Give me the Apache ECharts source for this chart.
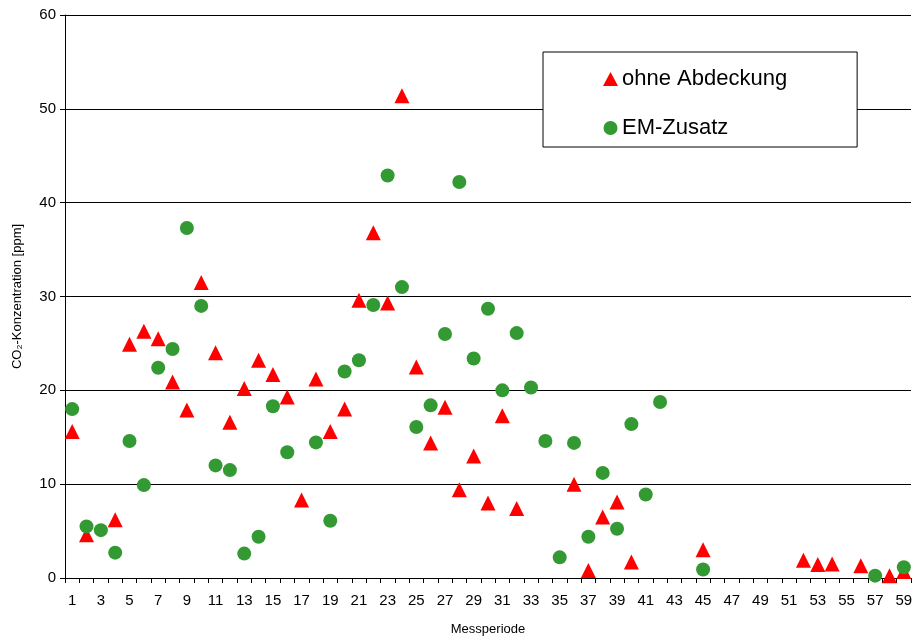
<!DOCTYPE html>
<html>
<head>
<meta charset="utf-8">
<script src="https://cdn.jsdelivr.net/npm/echarts@6/dist/echarts.min.js"></script>
<style>
html,body{margin:0;padding:0;background:#fff;}
#chart{width:915px;height:638px;}
</style>
</head>
<body>
<div id="chart"></div>
<script>
// Categories: measurement periods 1..59
const periods = [
  '1','2','3','4','5','6','7','8','9','10',
  '11','12','13','14','15','16','17','18','19','20',
  '21','22','23','24','25','26','27','28','29','30',
  '31','32','33','34','35','36','37','38','39','40',
  '41','42','43','44','45','46','47','48','49','50',
  '51','52','53','54','55','56','57','58','59'
];

// "ohne Abdeckung" (red triangles)
const ohneAbdeckung = [
  15.6, 4.6, null, 6.2, 24.9, 26.3, 25.5, 20.9, 17.9, 31.5,
  24.0, 16.6, 20.2, 23.2, 21.7, 19.3, 8.3, 21.2, 15.6, 18.0,
  29.6, 36.8, 29.3, 51.4, 22.5, 14.4, 18.2, 9.4, 13.0, 8.0,
  17.3, 7.4, null, null, null, 10.0, 0.8, 6.5, 8.1, 1.7,
  null, null, null, null, 3.0, null, null, null, null, null,
  null, 1.9, 1.45, 1.5, null, 1.3, null, 0.25, 0.7
];

// "EM-Zusatz" (green circles)
const emZusatz = [
  18.0, 5.5, 5.1, 2.7, 14.6, 9.9, 22.4, 24.4, 37.3, 29.0,
  12.0, 11.5, 2.6, 4.4, 18.3, 13.4, null, 14.45, 6.1, 22.0,
  23.2, 29.1, 42.9, 31.0, 16.1, 18.4, 26.0, 42.2, 23.4, 28.7,
  20.0, 26.1, 20.3, 14.6, 2.2, 14.4, 4.4, 11.2, 5.25, 16.4,
  8.9, 18.75, null, null, 0.9, null, null, null, null, null,
  null, null, null, null, null, null, 0.25, null, 1.15
];

const yTicks = [0, 10, 20, 30, 40, 50, 60];

const font = 'Liberation Sans, Arial, sans-serif';
const chart = echarts.init(document.getElementById('chart'), null, {renderer: 'canvas'});
chart.setOption({
  animation: false,
  backgroundColor: '#ffffff',
  textStyle: {fontFamily: font, color: '#000'},
  grid: {left: 65, right: 4, top: 15, bottom: 60, containLabel: false, outerBoundsMode: 'none'},
  legend: {
    orient: 'vertical',
    left: 543,
    top: 52,
    backgroundColor: '#fff',
    borderColor: '#000',
    borderWidth: 1,
    borderRadius: 0,
    padding: [16, 70, 8, 60],
    itemGap: 27,
    itemWidth: 15,
    itemHeight: 14,
    itemStyle: {borderWidth: 0},
    textStyle: {fontFamily: font, fontSize: 22, lineHeight: 22, color: '#000', padding: [0,0,0,-1]},
    data: [
      {name: 'ohne Abdeckung', icon: 'triangle'},
      {name: 'EM-Zusatz', icon: 'circle'}
    ]
  },
  xAxis: {
    type: 'category',
    data: periods,
    boundaryGap: true,
    name: 'Messperiode',
    nameLocation: 'middle',
    nameGap: 45,
    nameTextStyle: {fontFamily: font, fontSize: 13, color: '#000'},
    axisLine: {show: true, lineStyle: {color: '#000', width: 1}},
    axisTick: {show: true, interval: 0, alignWithLabel: false, length: 5, lineStyle: {color: '#000'}},
    axisLabel: {interval: 1, fontFamily: font, fontSize: 15, color: '#000', margin: 15},
    splitLine: {show: false}
  },
  yAxis: {
    type: 'value',
    min: yTicks[0],
    max: yTicks[yTicks.length - 1],
    interval: 10,
    name: 'CO\u2082-Konzentration [ppm]',
    nameLocation: 'middle',
    nameGap: 41,
    nameRotate: 90,
    nameTextStyle: {fontFamily: font, fontSize: 13, color: '#000'},
    axisLine: {show: true, lineStyle: {color: '#000', width: 1}},
    axisTick: {show: true, length: 5, lineStyle: {color: '#000'}},
    axisLabel: {fontFamily: font, fontSize: 15, color: '#000', margin: 9},
    splitLine: {show: true, lineStyle: {color: '#000', width: 1}}
  },
  series: [
    {
      name: 'ohne Abdeckung',
      type: 'scatter',
      symbol: 'triangle',
      symbolSize: 15,
      itemStyle: {color: '#ff0000', opacity: 1},
      data: ohneAbdeckung,
      z: 2
    },
    {
      name: 'EM-Zusatz',
      type: 'scatter',
      symbol: 'circle',
      symbolSize: 14,
      itemStyle: {color: '#339933', opacity: 1},
      data: emZusatz,
      z: 3
    }
  ]
});
</script>
</body>
</html>
